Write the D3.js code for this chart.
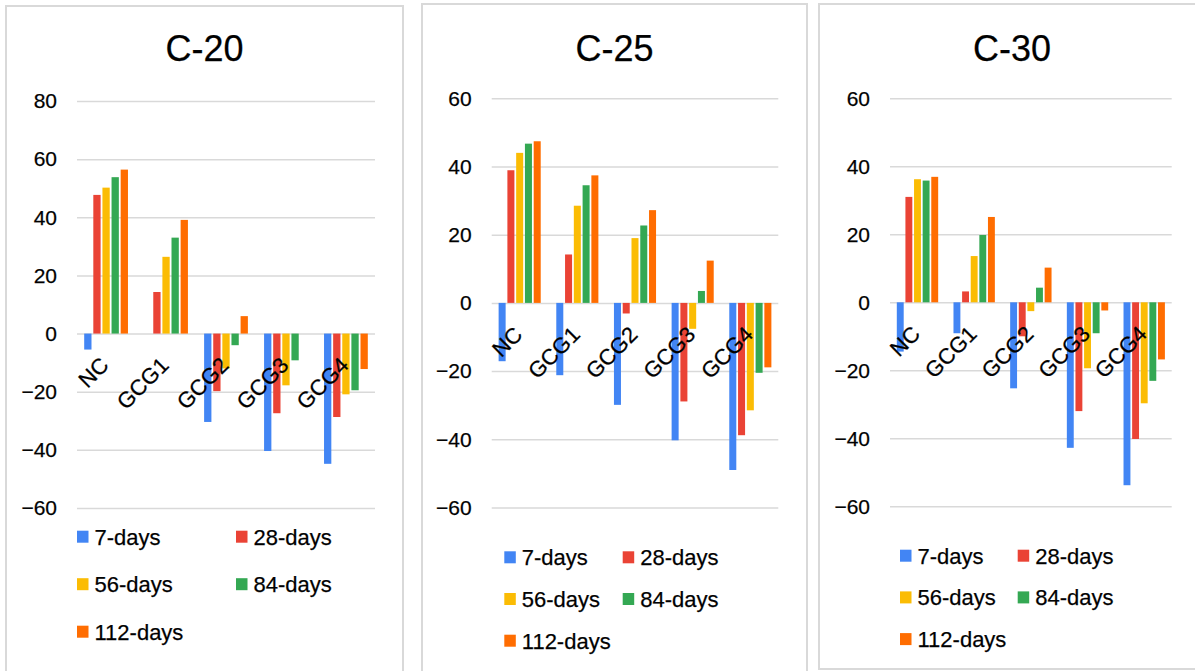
<!DOCTYPE html>
<html>
<head>
<meta charset="utf-8">
<script src="https://cdn.jsdelivr.net/npm/d3@7/dist/d3.min.js"></script>
<style>
  html, body { margin: 0; padding: 0; background: #fff; }
  svg { display: block; font-family: 'Liberation Sans', Arial, sans-serif; }
  svg text { stroke: #111; stroke-width: 0.25px; }
</style>
</head>
<body>
<svg id="chart" width="1195" height="671"></svg>
<script>
/* globals d3 */

// categories and series
var categories = ['NC', 'GCG1', 'GCG2', 'GCG3', 'GCG4'];
var seriesNames = ['7-days', '28-days', '56-days', '84-days', '112-days'];
var seriesColors = ['#4285f4', '#ea4335', '#fbbc04', '#34a853', '#ff6d01'];

// values, one row per series (same order as categories)
var c20Values = [
  [-5.5, 0, -30.4, -40.4, -44.8],
  [47.7, 14.3, -19.8, -27.4, -28.7],
  [50.2, 26.4, -12, -17.8, -20.9],
  [53.8, 33.0, -4.0, -9.2, -19.5],
  [56.4, 39.1, 6.0, 0, -12.2]
];
var c25Values = [
  [-17.1, -21.2, -29.9, -40.3, -49.0],
  [38.9, 14.2, -3.1, -28.9, -38.8],
  [44.0, 28.5, 19.0, -7.6, -31.5],
  [46.7, 34.5, 22.7, 3.5, -20.5],
  [47.4, 37.4, 27.2, 12.4, -18.9]
];
var c30Values = [
  [-14.5, -9.1, -25.3, -42.8, -53.8],
  [31.0, 3.2, -10, -32.0, -40.2],
  [36.2, 13.6, -2.6, -19.4, -29.7],
  [35.8, 19.8, 4.3, -9.1, -23.1],
  [36.9, 25.1, 10.2, -2.4, -16.8]
];

// tick labels
var c20Ticks = [-60, -40, -20, 0, 20, 40, 60, 80];
var c25Ticks = [-60, -40, -20, 0, 20, 40, 60];
var c30Ticks = [-60, -40, -20, 0, 20, 40, 60];

var titles = ['C-20', 'C-25', 'C-30'];

// layout of each panel (pixels)
var panels = [
  { title: titles[0], values: c20Values, ticks: c20Ticks,
    box: [6, 6, 403, 690], x: [77, 375], y: [508, 101],
    legend: { x1: 77, x2: 236, y: 536.7, dy: 47.5 } },
  { title: titles[1], values: c25Values, ticks: c25Ticks,
    box: [422, 4, 807, 690], x: [491.7, 778.3], y: [507.5, 98.3],
    legend: { x1: 504.3, x2: 622.7, y: 557.3, dy: 41.7 } },
  { title: titles[2], values: c30Values, ticks: c30Ticks,
    box: [819, 4, 1205, 669], x: [890, 1171.7], y: [506.3, 98.3],
    legend: { x1: 900, x2: 1017.7, y: 555.7, dy: 41.7 } }
];

var svg = d3.select('#chart');

panels.forEach(drawPanel);

function drawPanel(p) {
  var g = svg.append('g');

  // panel frame
  g.append('rect')
    .attr('x', p.box[0])
    .attr('y', p.box[1])
    .attr('width', p.box[2] - p.box[0])
    .attr('height', p.box[3] - p.box[1])
    .attr('fill', '#fff')
    .attr('stroke', '#d9d9d9')
    .attr('stroke-width', 2);

  g.append('text')
    .attr('x', (p.box[0] + p.box[2]) / 2)
    .attr('y', 60.5)
    .attr('text-anchor', 'middle')
    .attr('font-size', 36)
    .attr('fill', '#000')
    .text(p.title);

  var x0 = d3.scaleBand()
    .domain(categories)
    .range(p.x)
    .paddingInner(0.27)
    .paddingOuter(0.12);

  var x1 = d3.scaleBand()
    .domain(seriesNames)
    .range([0, x0.bandwidth()])
    .paddingInner(0.2);

  var y = d3.scaleLinear()
    .domain(d3.extent(p.ticks))
    .range(p.y);

  // gridlines and value labels
  var yAxis = d3.axisLeft(y)
    .tickValues(p.ticks)
    .tickSize(-(p.x[1] - p.x[0]))
    .tickPadding(20)
    .tickFormat(d3.format('d'));

  var ag = g.append('g')
    .attr('transform', 'translate(' + p.x[0] + ',0)')
    .call(yAxis);
  ag.select('.domain').remove();
  ag.selectAll('.tick line')
    .attr('stroke', '#d9d9d9')
    .attr('stroke-width', 1.5);
  ag.selectAll('.tick text')
    .attr('font-size', 21)
    .attr('font-family', "'Liberation Sans', Arial, sans-serif")
    .attr('fill', '#000');

  // bars
  var rows = [];
  p.values.forEach(function (vals, si) {
    vals.forEach(function (v, ci) {
      rows.push({ series: seriesNames[si], color: seriesColors[si], cat: categories[ci], value: v });
    });
  });

  g.append('g').selectAll('rect')
    .data(rows)
    .enter().append('rect')
    .attr('x', function (d) { return x0(d.cat) + x1(d.series); })
    .attr('y', function (d) { return y(Math.max(0, d.value)); })
    .attr('width', x1.bandwidth())
    .attr('height', function (d) { return Math.abs(y(d.value) - y(0)); })
    .attr('fill', function (d) { return d.color; });

  // category labels sit just under the zero line, over the bars
  var zero = y(0);
  g.append('g').selectAll('text')
    .data(categories)
    .enter().append('text')
    .attr('transform', function (d) {
      return 'translate(' + (x0(d) + x0.bandwidth() / 2 + 4) + ',' + (zero + 33) + ') rotate(-45)';
    })
    .attr('text-anchor', 'end')
    .attr('font-size', 22)
    .attr('fill', '#000')
    .text(function (d) { return d; });

  // legend, two columns
  var lg = g.append('g').selectAll('g')
    .data(seriesNames)
    .enter().append('g')
    .attr('transform', function (d, i) {
      var lx = i % 2 === 0 ? p.legend.x1 : p.legend.x2;
      var ly = p.legend.y + Math.floor(i / 2) * p.legend.dy;
      return 'translate(' + lx + ',' + ly + ')';
    });

  lg.append('rect')
    .attr('x', 0)
    .attr('y', -6)
    .attr('width', 11.5)
    .attr('height', 12)
    .attr('fill', function (d, i) { return seriesColors[i]; });

  lg.append('text')
    .attr('x', 17.5)
    .attr('dy', '0.36em')
    .attr('font-size', 22)
    .attr('fill', '#000')
    .text(function (d) { return d; });
}
</script>
</body>
</html>
